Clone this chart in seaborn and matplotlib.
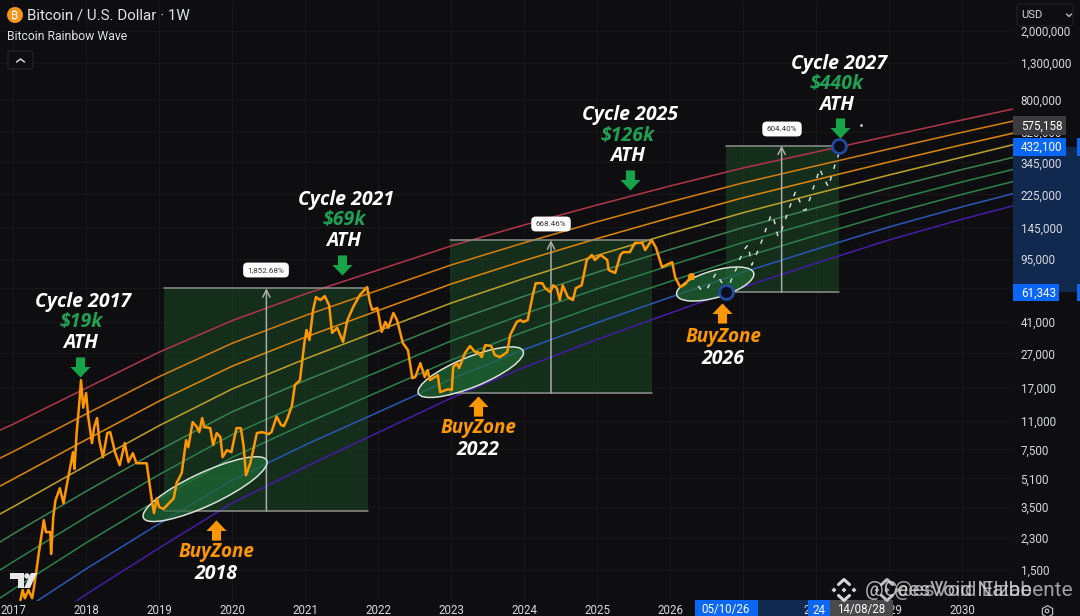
import matplotlib
matplotlib.use("Agg")
import pandas as pd
import matplotlib.pyplot as plt
import seaborn as sns
from matplotlib.patches import Ellipse, Rectangle, FancyBboxPatch, Polygon, Circle
from matplotlib.lines import Line2D
from matplotlib.path import Path
from matplotlib.transforms import IdentityTransform

W, H = 1080, 616
BG = "#0e0e10"

# ------------------------ DATA ------------------------

band_years = [2016.82, 2017, 2018, 2019, 2020, 2021, 2022, 2023, 2024, 2025, 2026, 2027, 2028, 2029, 2030, 2030.70]
band_red = [9700, 10510, 16990, 27460, 41820, 59630, 82100, 113200, 149800, 195500, 252000, 320400, 396700, 490900, 607800, 703800]
band_orange = [6680, 7280, 12040, 19800, 30910, 44730, 62650, 87830, 118100, 156300, 203800, 262600, 329600, 412800, 515400, 598900]
band_amber = [4600, 5050, 8540, 14290, 22760, 33500, 47820, 68160, 93150, 124900, 164800, 215300, 273800, 347100, 436600, 509600]
band_yellow = [3170, 3490, 6040, 10300, 16800, 25070, 36460, 52840, 73400, 99800, 133400, 176400, 227400, 291800, 369900, 437100]
band_green1 = [2180, 2430, 4290, 7430, 12390, 18800, 27750, 40990, 57900, 79700, 107900, 144700, 188100, 245300, 313700, 369100]
band_green2 = [1500, 1676, 3040, 5360, 9130, 14100, 21170, 31870, 45690, 63760, 87200, 118600, 156900, 206200, 265800, 314400]
band_green3 = [1033, 1160, 2157, 3870, 6740, 10570, 16150, 24700, 36020, 50900, 70550, 97200, 130300, 173400, 225300, 267300]
band_blue = [710, 806, 1524, 2785, 4970, 7960, 12320, 19150, 28420, 40660, 57050, 79600, 108300, 145800, 190800, 227400]
band_purple = [488, 558, 1085, 2013, 3665, 5935, 9390, 14870, 22380, 32540, 46200, 65300, 89950, 122600, 161700, 193300]

band_names = ["red", "orange", "amber", "yellow", "green1", "green2", "green3", "blue", "purple"]
band_colors = ["#ad3548", "#cf7c12", "#d9840f", "#b89f2a", "#3a7f50", "#2b7d4a", "#2b7d4a", "#2a55b0", "#441ca3"]

btc_years = [2017.10, 2017.13, 2017.16, 2017.21, 2017.26, 2017.28, 2017.32, 2017.35, 2017.42, 2017.45, 2017.51, 2017.52,
             2017.55, 2017.58, 2017.64, 2017.69, 2017.74, 2017.78, 2017.82, 2017.84, 2017.87, 2017.91, 2017.93, 2017.96,
             2018.00, 2018.03, 2018.08, 2018.11, 2018.15, 2018.18, 2018.23, 2018.29, 2018.33, 2018.40, 2018.46, 2018.53,
             2018.58, 2018.64, 2018.69, 2018.83, 2018.88, 2018.90, 2018.93, 2018.97, 2019.00, 2019.06, 2019.20, 2019.24,
             2019.31, 2019.37, 2019.40, 2019.46, 2019.52, 2019.55, 2019.59, 2019.62, 2019.70, 2019.74, 2019.79, 2019.84,
             2019.87, 2019.93, 2019.99, 2020.06, 2020.12, 2020.16, 2020.19, 2020.25, 2020.34, 2020.41, 2020.50, 2020.54,
             2020.61, 2020.67, 2020.71, 2020.76, 2020.82, 2020.86, 2020.93, 2020.99, 2021.02, 2021.06, 2021.11, 2021.15,
             2021.21, 2021.27, 2021.33, 2021.37, 2021.44, 2021.52, 2021.58, 2021.66, 2021.75, 2021.85, 2021.89, 2021.92,
             2021.99, 2022.05, 2022.10, 2022.14, 2022.21, 2022.26, 2022.34, 2022.41, 2022.47, 2022.51, 2022.58, 2022.64,
             2022.68, 2022.71, 2022.82, 2022.85, 2022.96, 2023.01, 2023.03, 2023.08, 2023.11, 2023.19, 2023.26, 2023.33,
             2023.37, 2023.42, 2023.47, 2023.55, 2023.60, 2023.67, 2023.77, 2023.81, 2023.90, 2023.95, 2023.99, 2024.05,
             2024.12, 2024.16, 2024.25, 2024.29, 2024.36, 2024.40, 2024.45, 2024.49, 2024.53, 2024.60, 2024.67, 2024.71,
             2024.79, 2024.86, 2024.93, 2024.97, 2025.05, 2025.14, 2025.16, 2025.25, 2025.32, 2025.36, 2025.45, 2025.52,
             2025.62, 2025.66, 2025.75, 2025.81, 2025.89, 2026.03, 2026.07, 2026.14, 2026.21, 2026.29]
btc_price = [1005, 1150, 1030, 1150, 1030, 1150, 1500, 1860, 2920, 2490, 2490, 1860,
             3040, 3810, 4470, 3660, 4790, 5860, 7230, 5780, 9330, 14480, 18900, 13100,
             15900, 11500, 8160, 10100, 11400, 8490, 6760, 9330, 9450, 7130, 6080, 8160,
             6330, 7130, 6240, 6240, 4360, 3810, 3210, 3910, 3480, 3390, 3910, 4790,
             5470, 8490, 7730, 10800, 10100, 9450, 11400, 10100, 9970, 7950, 9330, 8840,
             6760, 7430, 7230, 9970, 9970, 7730, 5320, 6240, 9330, 9450, 9200, 9450,
             11650, 10400, 10230, 11400, 13450, 17700, 18900, 31000, 36900, 32300, 48200, 57250,
             55000, 58000, 51300, 35500, 38000, 31500, 42100, 50200, 58800, 65400, 53100, 48200,
             49500, 36000, 41100, 38000, 46300, 42100, 31000, 28200, 19400, 19700, 23700, 19700,
             21600, 18900, 20200, 16100, 16750, 16550, 22500, 23700, 22200, 27100, 29800, 27500,
             27500, 25700, 30200, 29800, 26400, 25700, 27500, 34500, 41100, 42100, 41100, 42100,
             58800, 68900, 68900, 64500, 61200, 67000, 64500, 55000, 67000, 57250, 55000, 64500,
             67000, 93900, 100400, 93900, 100400, 93900, 82100, 79000, 100400, 104300, 104300, 118000,
             118000, 107300, 122600, 110200, 85400, 91200, 74800, 65500, 68000, 75800]

proj_years = [2026.29, 2026.34, 2026.43, 2026.50, 2026.59, 2026.63, 2026.73, 2026.77, 2026.85, 2026.91, 2026.96, 2027.03,
              2027.07, 2027.12, 2027.18, 2027.23, 2027.28, 2027.33, 2027.38, 2027.41, 2027.48, 2027.53, 2027.58, 2027.62,
              2027.67, 2027.72, 2027.77, 2027.83, 2027.86, 2027.92, 2027.96, 2028.01, 2028.05, 2028.10, 2028.17, 2028.21,
              2028.26, 2028.31, 2028.32]
proj_price = [75800, 70200, 62900, 62900, 73500, 78800, 67300, 61343, 73500, 83900, 95900, 109700,
              114800, 87800, 100400, 113200, 128000, 147800, 168800, 171000, 128000, 140100, 160100, 181000,
              205000, 234000, 209000, 182900, 182900, 214000, 243000, 278000, 318000, 284000, 249000, 284000,
              334000, 382000, 432100]

# measured ranges: start, end, middle, low, high, label
range_start = [2019.07, 2022.99, 2026.77]
range_end = [2021.86, 2025.75, 2028.32]
range_mid = [2020.47, 2024.37, 2027.53]
range_low = [3300, 15900, 61343]
range_high = [64438, 122185, 432100]
range_labels = ["1,852.68%", "668.46%", "604.40%"]

zone_years = [2019.63, 2023.27, 2026.62]
zone_price = [4416, 21030, 68160]

target_years = [2026.77, 2028.32]
target_price = [61343, 432100]

year_ticks = list(range(2017, 2031))
price_ticks = [2000000, 1300000, 800000, 520000, 345000, 225000, 145000, 95000, 65000,
               41000, 27000, 17000, 11000, 7500, 5100, 3500, 2300, 1500]

# ------------------------ HELPERS ------------------------


def fx(x):
    return x / W


def fy(y):
    return 1 - y / H


def label(x, y, s, color="white", size=14, ha="center", weight="bold", style="italic", family="Open Sans", **kw):
    kw.setdefault("zorder", 7)
    fig.text(fx(x), fy(y), s, color=color, fontsize=size, ha=ha, va="center",
             fontweight=weight, fontstyle=style, family=family, **kw)


def box(x0, y0, x1, y1, color, z=1):
    fig.patches.append(Rectangle((fx(x0), fy(y1)), (x1 - x0) / W, (y1 - y0) / H, transform=fig.transFigure,
                                 facecolor=color, edgecolor="none", zorder=z, figure=fig))


def px_line(xs, ys, color, lw=1.0, z=5):
    fig.add_artist(Line2D([fx(x) for x in xs], [fy(y) for y in ys], color=color, lw=lw, zorder=z,
                          solid_capstyle="round", transform=fig.transFigure))


def px_circle(x, y, r, **kw):
    # display space so it stays round
    fig.add_artist(Circle((x, H - y), r, transform=IdentityTransform(), zorder=5, **kw))


def binance(cx, cy, color, alpha=1.0):
    r = 5.5
    for dx, dy in [(0, 0), (-10, 0), (10, 0)]:
        fig.add_artist(Polygon([(fx(cx + dx - 2.5), fy(cy + dy)), (fx(cx + dx), fy(cy + dy - 2.5)),
                                (fx(cx + dx + 2.5), fy(cy + dy)), (fx(cx + dx), fy(cy + dy + 2.5))],
                               closed=True, fc=color, ec="none", alpha=alpha, transform=fig.transFigure, zorder=6))
    for s in (-1, 1):
        px_line([cx - r, cx, cx + r], [cy + s * 5.5, cy + s * 10.5, cy + s * 5.5], color, lw=2.2, z=6)


# ------------------------ PLOT ------------------------

sns.set_theme(style="dark", rc={"axes.facecolor": BG, "figure.facecolor": BG, "savefig.facecolor": BG})
plt.rcParams["font.family"] = ["Roboto", "DejaVu Sans"]

fig = plt.figure(figsize=(W / 100, H / 100), dpi=100)
ax = fig.add_axes([0, 15 / H, 1013 / W, 601 / H])
ax.set_yscale("log")
ax.set_xlim(2016.82, 2030.70)
ax.set_ylim(993, 3013000)

bands = pd.DataFrame({"year": band_years, "red": band_red, "orange": band_orange, "amber": band_amber,
                      "yellow": band_yellow, "green1": band_green1, "green2": band_green2, "green3": band_green3,
                      "blue": band_blue, "purple": band_purple}).melt("year", var_name="band", value_name="price")
btc = pd.DataFrame({"year": btc_years, "price": btc_price})
proj = pd.DataFrame({"year": proj_years, "price": proj_price})

# green measured boxes under everything
for i in range(3):
    ax.fill_between([range_start[i], range_end[i]], range_low[i], range_high[i], color="#1f5a2b", alpha=0.42,
                    lw=0, zorder=1)
    ax.plot([range_start[i], range_end[i]], [range_high[i]] * 2, color="#8d8f8d", lw=1.1, zorder=2.4)
    ax.plot([range_start[i], range_end[i]], [range_low[i]] * 2, color="#8d8f8d", lw=1.1, zorder=2.4)
    ax.annotate("", xy=(range_mid[i], range_high[i]), xytext=(range_mid[i], range_low[i]), zorder=2.4,
                arrowprops=dict(arrowstyle="->", color="#a9aca9", lw=1.1, shrinkA=0, shrinkB=0, mutation_scale=13))

sns.lineplot(data=bands, x="year", y="price", hue="band", hue_order=band_names, palette=band_colors,
             estimator=None, errorbar=None, legend=False, lw=1.15, ax=ax, zorder=2)

# buy zones are tilted in screen space, so placed through the display transform
zone_size = [(136, 33, 25), (113, 30, 22), (80, 27, 16)]
for yr, p, (w, h, ang) in zip(zone_years, zone_price, zone_size):
    ax.add_patch(Ellipse(ax.transData.transform((yr, p)), w, h, angle=ang, transform=IdentityTransform(),
                         facecolor="#1f6b35", edgecolor="none", alpha=0.7, zorder=3, clip_on=False))
    ax.add_patch(Ellipse(ax.transData.transform((yr, p)), w, h, angle=ang, transform=IdentityTransform(),
                         facecolor="none", edgecolor="#d9e2d9", lw=1.1, zorder=3.1, clip_on=False))

sns.lineplot(data=proj, x="year", y="price", estimator=None, errorbar=None, color="#d5d8d5", lw=1.1,
             linestyle=(0, (3, 5)), ax=ax, zorder=3.5)
sns.lineplot(data=btc, x="year", y="price", estimator=None, errorbar=None, color="#ff9800", lw=1.8, ax=ax, zorder=4)
ax.plot(btc_years[-1], btc_price[-1], "o", color="#ff9800", ms=4, zorder=4)
ax.plot(target_years, target_price, "o", mfc="#0b0f1c", mec="#1f4aa0", mew=2, ms=10, zorder=5, clip_on=False)

ax.set_xlabel("")
ax.set_ylabel("")
ax.set_xticks(year_ticks)
ax.set_xticklabels([str(y) for y in year_ticks])
ax.yaxis.tick_right()
ax.set_yticks(price_ticks)
ax.set_yticklabels([f"{p:,}" for p in price_ticks])
ax.minorticks_off()
ax.tick_params(axis="y", length=0, pad=5.5, labelsize=8.4, labelcolor="#d6d8de")
ax.tick_params(axis="x", length=0, pad=2.5, labelsize=8.3, labelcolor="#d6d8de")
ax.grid(True, color="#18181b", lw=0.8, zorder=0)
ax.set_axisbelow(True)
for s in ax.spines.values():
    s.set_visible(False)

# shaded selection on both scales, behind the tick labels
ax.add_patch(Rectangle((fx(1013), fy(292)), 67 / W, 145 / H, transform=fig.transFigure, fc="#12294f", ec="none",
                       zorder=0.5, clip_on=False))
ax.add_patch(Rectangle((fx(758), fy(616)), 50 / W, 16 / H, transform=fig.transFigure, fc="#12294f", ec="none",
                       zorder=0.5, clip_on=False))

# price / date tags
box(1013, 116, 1066, 135, "#3c3c3f")
box(1013, 138, 1066, 156, "#0a66f5")
box(1013, 284, 1059, 301, "#0a66f5")
box(1077, 138, 1080, 156, "#0a66f5")
box(1077, 284, 1080, 301, "#0a66f5")
box(695, 600, 758, 616, "#0a66f5")
box(808, 600, 830, 616, "#0a66f5")
box(830, 600, 893, 616, "#4a4a4c")
for x, y, s in [(1021, 126, "575,158"), (1021, 147, "432,100"), (1021, 293, "61,343")]:
    label(x, y, s, color="white", size=8.4, ha="left", weight="normal", style="normal", family="Roboto")
for x, s in [(726, "05/10/26"), (819, "24"), (861, "14/08/28")]:
    label(x, 610, s, color="white", size=8.3, weight="normal", style="normal", family="Roboto")

# header
px_circle(15, 15, 8, fc="#f7931a", ec="none")
fig.text(fx(15), fy(15), "₿", color="white", fontsize=8, ha="center", va="center", zorder=7,
         family=["Inter", "Noto Sans", "Roboto", "DejaVu Sans"])
label(27, 15, "Bitcoin / U.S. Dollar · 1W", color="#dfe1e6", size=10.9, ha="left", weight="normal", style="normal",
      family="Roboto")
label(7, 37, "Bitcoin Rainbow Wave", color="#dfe1e6", size=8.8, ha="left", weight="normal", style="normal",
      family="Roboto")
fig.add_artist(FancyBboxPatch((fx(8), fy(69)), 25 / W, 18 / H, boxstyle="round,pad=0,rounding_size=0.003",
                              transform=fig.transFigure, fc=BG, ec="#26262a", lw=0.8, zorder=5))
px_line([16.5, 20.5, 24.5], [62, 59, 62], "#d6d8de", lw=1.1)

# USD dropdown and settings
fig.add_artist(FancyBboxPatch((fx(1017), fy(26)), 56 / W, 22 / H, boxstyle="round,pad=0,rounding_size=0.004",
                              transform=fig.transFigure, fc=BG, ec="#222226", lw=0.8, zorder=5))
label(1021, 15, "USD", color="#d6d8de", size=8, ha="left", weight="normal", style="normal", family="Roboto")
px_line([1066.5, 1069, 1071.5], [14, 16.5, 14], "#b8bac0", lw=1)
fig.add_artist(Line2D([fx(1047)], [fy(611)], marker="h", ms=8.5, mfc="none", mec="#b8bac0", mew=0.9, ls="none",
                      transform=fig.transFigure, zorder=5))
px_circle(1047, 611, 1.8, fc="none", ec="#b8bac0", lw=0.9)

# cycle captions
for x, y, year, price in [(83, 302, "Cycle 2017", "$19k"), (346, 200, "Cycle 2021", "$69k"),
                          (630, 115, "Cycle 2025", "$126k"), (839, 64, "Cycle 2027", "$440k")]:
    label(x, y, year)
    label(x - 2, y + 20.5, price, color="#1fa055")
    label(x - 2, y + 41, "ATH")
for x, y, year in [(216, 552, "2018"), (478, 428, "2022"), (723, 337, "2026")]:
    label(x, y, "BuyZone", color="#ff9800", size=13.6)
    label(x, y + 22, year)

# block arrows
down_arrow = Path([(-0.45, 1), (0.45, 1), (0.45, 0.05), (1, 0.05), (0, -1), (-1, 0.05), (-0.45, 0.05), (-0.45, 1)],
                  closed=True)
up_arrow = Path([(-0.45, -1), (0.45, -1), (0.45, -0.05), (1, -0.05), (0, 1), (-1, -0.05), (-0.45, -0.05), (-0.45, -1)],
                closed=True)
for x, y in [(80, 367), (342, 265), (630, 180), (840, 128)]:
    fig.add_artist(Line2D([fx(x)], [fy(y)], marker=down_arrow, ms=14.5, mfc="#16a34a", mec="none", ls="none",
                          transform=fig.transFigure, zorder=6))
for x, y in [(216, 530), (478, 406), (722, 313)]:
    fig.add_artist(Line2D([fx(x)], [fy(y)], marker=up_arrow, ms=14.5, mfc="#ff9800", mec="none", ls="none",
                          transform=fig.transFigure, zorder=6))
fig.add_artist(Line2D([fx(861)], [fy(125)], marker="o", ms=2, mfc="#cfcfcf", mec="none", ls="none",
                      transform=fig.transFigure, zorder=6))

# percent tags on the ranges
for x, y, s in [(266, 270, range_labels[0]), (551, 224, range_labels[1]), (782, 129, range_labels[2])]:
    fig.text(fx(x), fy(y), s, color="#333333", fontsize=5.8, ha="center", va="center", zorder=6,
             bbox=dict(boxstyle="round,pad=0.55", fc="white", ec="none"))

# tradingview mark
fig.add_artist(Polygon([(fx(10), fy(573)), (fx(24), fy(573)), (fx(24), fy(588)), (fx(18), fy(588)), (fx(18), fy(579)),
                        (fx(10), fy(579))], closed=True, fc="#e8e8e8", ec="none", transform=fig.transFigure, zorder=6))
px_circle(27, 576, 2.8, fc="#e8e8e8", ec="none")
fig.add_artist(Polygon([(fx(31), fy(573)), (fx(37), fy(573)), (fx(30), fy(588)), (fx(24), fy(588))], closed=True,
                       fc="#e8e8e8", ec="none", transform=fig.transFigure, zorder=6))

# doubled watermark
binance(844, 590, "#d8d8d8")
binance(887, 590, "#bdbdbd", alpha=0.8)
label(865, 590, "@CeesVoid Nalbe", color="#dcdcdc", size=15, ha="left", weight="normal", style="normal",
      family="Roboto", alpha=0.8)
label(894, 590, "@esVoid Elzabente", color="#dcdcdc", size=15, ha="left", weight="normal", style="normal",
      family="Roboto", alpha=0.7)

fig.savefig("out.png", dpi=100, facecolor=BG)
plt.close(fig)
